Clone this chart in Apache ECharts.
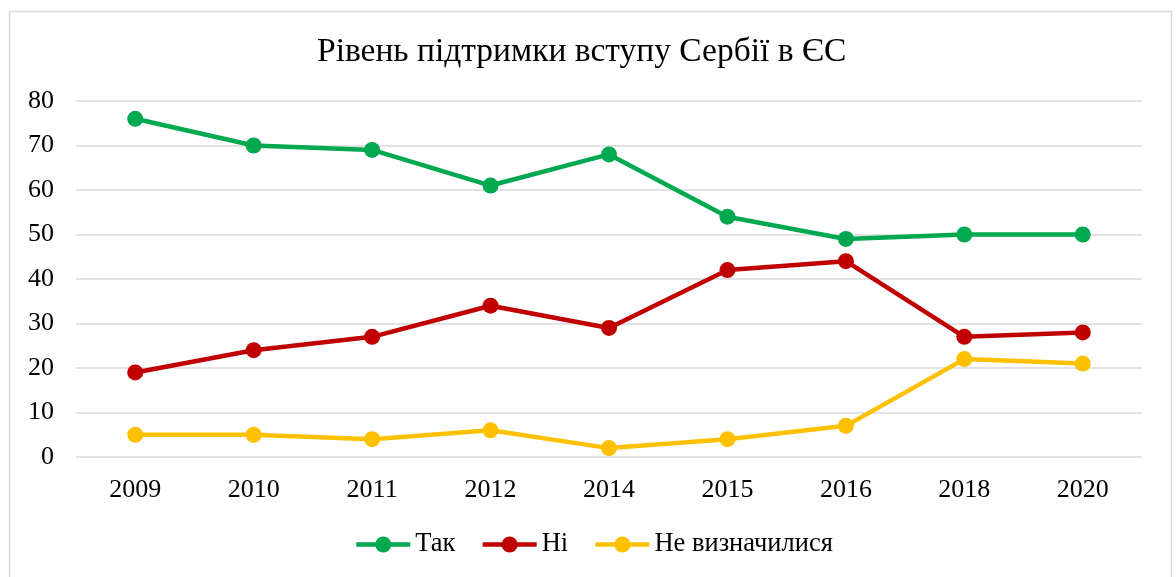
<!DOCTYPE html>
<html>
<head>
<meta charset="utf-8">
<script src="https://cdn.jsdelivr.net/npm/echarts@6/dist/echarts.min.js"></script>
<style>
  html, body { margin: 0; padding: 0; background: #fff; }
  #chart { width: 1176px; height: 577px; }
</style>
</head>
<body>
<div id="chart"></div>
<script>
// рік опитування
const years = ['2009', '2010', '2011', '2012', '2014', '2015', '2016', '2018', '2020'];
// відсотки відповідей
const tak = [76, 70, 69, 61, 68, 54, 49, 50, 50];
const ni = [19, 24, 27, 34, 29, 42, 44, 27, 28];
const neVyznachylysia = [5, 5, 4, 6, 2, 4, 7, 22, 21];

const font = '"Liberation Serif", "Times New Roman", serif';

const mkSeries = (name, data, color) => ({
    name: name,
    type: 'line',
    data: data,
    symbol: 'circle',
    symbolSize: 16,
    color: color,
    lineStyle: { width: 4.5, color: color },
    itemStyle: { color: color },
    emphasis: { disabled: true },
    animation: false
});

const myChart = echarts.init(document.getElementById('chart'));
myChart.setOption({
    backgroundColor: '#fff',
    graphic: [{
        type: 'rect',
        shape: { x: 9.5, y: 11.5, width: 1162, height: 600 },
        style: { fill: 'none', stroke: '#d9d9d9', lineWidth: 1.5 },
        silent: true
    }],
    title: {
        text: 'Рівень підтримки вступу Сербії в ЄС',
        left: 312,
        top: 30,
        textStyle: { fontFamily: font, fontSize: 33.5, fontWeight: 'normal', color: '#000' }
    },
    legend: {
        bottom: 14,
        left: 349,
        itemWidth: 54,
        itemHeight: 20,
        itemGap: 25,
        lineStyle: { width: 4.5 },
        textStyle: { fontFamily: font, fontSize: 26.5, color: '#000' },
        data: ['Так', 'Ні', 'Не визначилися']
    },
    grid: { left: 76, right: 34, top: 101, bottom: 120, containLabel: false },
    xAxis: {
        type: 'category',
        data: years,
        boundaryGap: true,
        axisLine: { show: false },
        axisTick: { show: false },
        axisLabel: { fontFamily: font, fontSize: 26, color: '#000', margin: 20 }
    },
    yAxis: {
        type: 'value',
        min: 0,
        max: 80,
        interval: 10,
        axisLine: { show: false },
        axisTick: { show: false },
        axisLabel: { fontFamily: font, fontSize: 26, color: '#000', margin: 22 },
        splitLine: { lineStyle: { color: '#d9d9d9', width: 1.5 } }
    },
    series: [
        mkSeries('Так', tak, '#00a84f'),
        mkSeries('Ні', ni, '#c00000'),
        mkSeries('Не визначилися', neVyznachylysia, '#ffc000')
    ]
});
</script>
</body>
</html>
